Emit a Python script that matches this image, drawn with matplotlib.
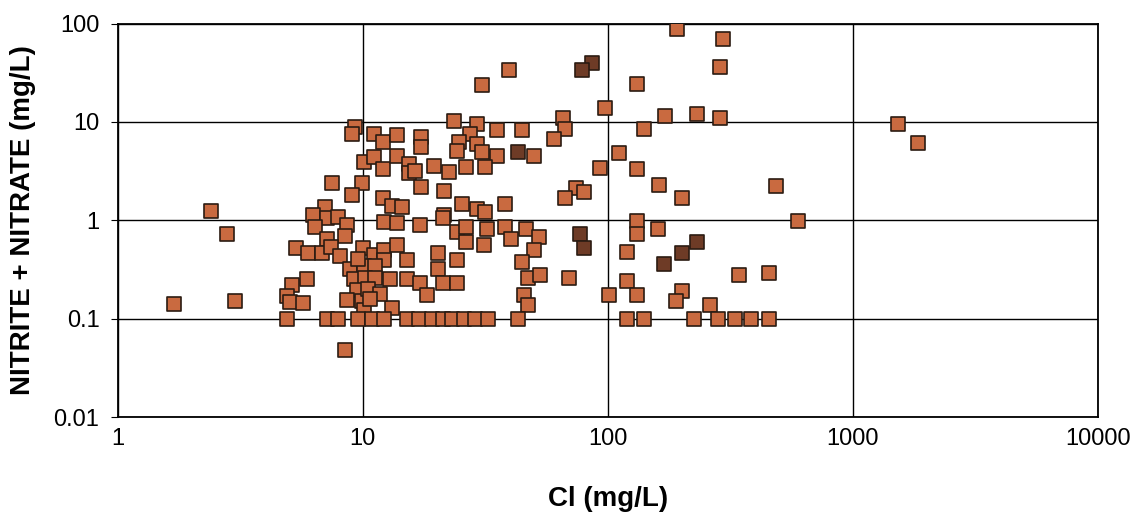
import matplotlib.pyplot as plt

plt.rcParams['font.family'] = ['Liberation Sans', 'DejaVu Sans']

# Cl (mg/L) vs nitrite + nitrate (mg/L)
cl_low = [1.7, 2.4, 2.8, 3.0, 4.9, 8.5, 5.9, 5.15, 4.9, 5.05, 5.7,
          9.3, 9.05, 11.1, 12.1, 13.8, 10.1, 11.1, 12.1, 13.8, 7.5, 9.9,
          9.05, 7.0, 12.1, 13.2, 6.3, 7.15, 7.95, 6.4, 8.6, 8.45, 7.15,
          5.35, 6.0, 6.8, 7.4, 8.1, 10.0, 11.1, 12.2, 12.2, 13.8, 8.9,
          10.1, 11.2, 9.2, 10.2, 11.2, 12.9, 9.5, 8.6, 9.9, 10.1, 13.2,
          7.15, 7.95, 9.6, 10.9, 12.2, 12.2, 13.8, 10.5, 11.8, 9.6, 10.7]
nox_low = [0.14, 1.25, 0.72, 0.15, 0.1, 0.048, 0.25, 0.22, 0.17, 0.146, 0.145,
           8.9, 7.6, 7.6, 6.3, 7.3, 3.9, 4.4, 3.35, 4.55, 2.4, 2.4,
           1.8, 1.38, 1.7, 1.4, 1.12, 1.05, 1.08, 0.86, 0.9, 0.7, 0.64,
           0.52, 0.47, 0.47, 0.54, 0.43, 0.52, 0.44, 0.5, 0.39, 0.56, 0.32,
           0.34, 0.34, 0.25, 0.26, 0.26, 0.25, 0.195, 0.153, 0.152, 0.122, 0.127,
           0.1, 0.1, 0.1, 0.1, 0.1, 0.96, 0.93, 0.2, 0.18, 0.4, 0.16]

cl_mid = [23.5, 29.4, 35.3, 44.7, 17.3, 17.3, 27.3, 24.6, 29.4, 24.2, 30.7,
          35.3, 49.8, 15.4, 15.4, 16.4, 19.5, 22.4, 26.5, 31.6, 17.3, 21.4,
          25.4, 29.4, 31.6, 38.2, 21.4, 14.5, 39.7, 30.7, 97, 65.6, 67,
          60.6, 111, 92.6, 74.4, 80.2, 67, 132,
          17.2, 21.3, 24.2, 26.5, 32.1, 38.2, 46.4, 26.5, 31.3, 40.4, 52.2,
          49.8, 20.2, 24.2, 15.1, 44.7, 20.2, 15.1, 17.2, 21.3, 24.2, 18.3,
          47.2, 53, 69.2, 45.3, 47.2, 101, 120, 120,
          15.1, 17.0, 19.2, 21.3, 23.1, 25.8, 28.8, 32.6, 43.2, 120]
nox_mid = [10.1, 9.6, 8.2, 8.2, 7.1, 5.55, 7.45, 6.2, 6.0, 5.1, 5.0,
           4.55, 4.5, 3.75, 3.0, 3.2, 3.6, 3.1, 3.5, 3.5, 2.2, 2.0,
           1.45, 1.3, 1.22, 1.48, 1.12, 1.37, 34, 23.5, 14, 10.9, 8.5,
           6.75, 4.85, 3.4, 2.15, 1.95, 1.7, 24.3,
           0.9, 1.06, 0.76, 0.86, 0.82, 0.86, 0.82, 0.6, 0.56, 0.65, 0.68,
           0.5, 0.47, 0.39, 0.39, 0.38, 0.32, 0.25, 0.23, 0.23, 0.23, 0.174,
           0.26, 0.28, 0.26, 0.174, 0.137, 0.174, 0.48, 0.24,
           0.1, 0.1, 0.1, 0.1, 0.1, 0.1, 0.1, 0.1, 0.1, 0.1]

cl_high = [192, 295, 286, 171, 231, 286, 141, 132, 161, 201, 487, 595,
           132, 131, 160, 342, 453, 131, 201, 190, 260,
           140, 224, 282, 331, 385, 456, 1523, 1839]
nox_high = [88, 70, 36, 11.6, 12.1, 10.9, 8.4, 3.35, 2.3, 1.7, 2.23, 0.99,
            0.98, 0.73, 0.82, 0.28, 0.29, 0.174, 0.19, 0.15, 0.137,
            0.1, 0.1, 0.1, 0.1, 0.1, 0.1, 9.55, 6.1]

# markers that came out darker in the scan
cl_dark = [43.2, 77.2, 80.2, 231, 201, 169, 86.2, 78.5]
nox_dark = [5.0, 0.73, 0.52, 0.6, 0.47, 0.36, 39.5, 34]

x_ticks = [1, 10, 100, 1000, 10000]
x_labels = ['1', '10', '100', '1000', '10000']
y_ticks = [0.01, 0.1, 1, 10, 100]
y_labels = ['0.01', '0.1', '1', '10', '100']

fig = plt.figure(figsize=(11.38, 5.17), dpi=100)
ax = fig.add_axes([0.1033, 0.1934, 0.8616, 0.7611])
ax.set_xscale('log')
ax.set_yscale('log')

cl = cl_low + cl_mid + cl_high
nox = nox_low + nox_mid + nox_high
ax.scatter(cl, nox, marker='s', s=105, c='#c96a40', edgecolors='#2b1b12',
           linewidths=1.2, zorder=3)
ax.scatter(cl_dark, nox_dark, marker='s', s=105, c='#6e3b26', edgecolors='#2b1b12',
           linewidths=1.2, zorder=3)

ax.set_xlim(1, 10000)
ax.set_ylim(0.01, 100)
ax.set_xticks(x_ticks)
ax.set_xticklabels(x_labels)
ax.set_yticks(y_ticks)
ax.set_yticklabels(y_labels)
ax.minorticks_off()
ax.grid(True, which='major', color='black', linewidth=1.0)

ax.tick_params(axis='x', length=0, pad=8, labelsize=17)
ax.tick_params(axis='y', length=5, direction='out', pad=8, labelsize=17)
for spine in ax.spines.values():
    spine.set_linewidth(1.3)

ax.set_xlabel('Cl (mg/L)', fontsize=20, fontweight='bold')
ax.xaxis.set_label_coords(0.5, -0.175)
ax.set_ylabel('NITRITE + NITRATE (mg/L)', fontsize=20, fontweight='bold')
ax.yaxis.set_label_coords(-0.083, 0.5)

fig.savefig('out.png', dpi=100)
